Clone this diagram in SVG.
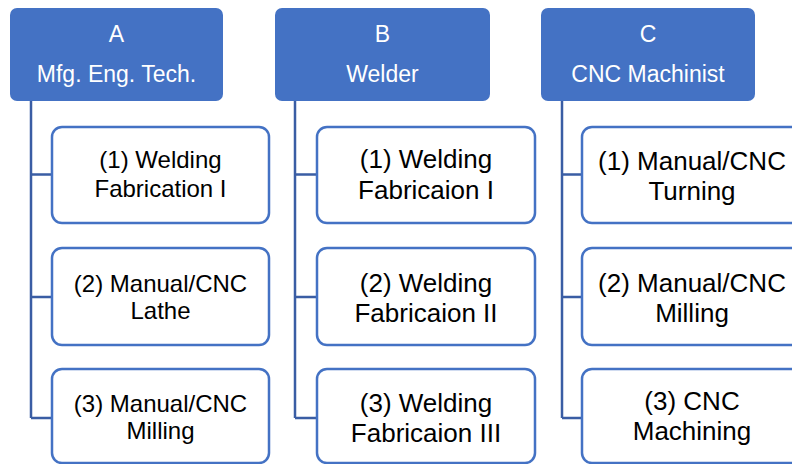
<svg xmlns="http://www.w3.org/2000/svg" width="792" height="464" viewBox="0 0 792 464">
<style>
.hdr{fill:#4472C4;}
.box{fill:#FFFFFF;stroke:#4472C4;stroke-width:2.5;}
.conn{fill:none;stroke:#3A5DA4;stroke-width:2.5;}
.ht{font-family:"Liberation Sans",Arial,sans-serif;font-size:23px;fill:#FFFFFF;text-anchor:middle;}
.ct{font-family:"Liberation Sans",Arial,sans-serif;fill:#000000;text-anchor:middle;}
.sa{font-size:24px;}
.sb{font-size:26px;}
</style>
<rect width="792" height="464" fill="#FFFFFF"/>
<g id="connectors">
<path class="conn" d="M31 101 V418 M31 174.5 H52 M31 297 H52 M31 418 H52"/>
<path class="conn" d="M295 101 V418 M295 174.5 H317 M295 297 H317 M295 418 H317"/>
<path class="conn" d="M562 101 V418 M562 174.5 H582 M562 297 H582 M562 418 H582"/>
</g>
<g id="A">
<rect class="hdr" x="10" y="8" width="213" height="93" rx="7"/>
<text class="ht" x="116.5" y="42">A</text>
<text class="ht" x="116.5" y="82">Mfg. Eng. Tech.</text>
</g>
<g id="B">
<rect class="hdr" x="275" y="8" width="215" height="93" rx="7"/>
<text class="ht" x="382.5" y="42">B</text>
<text class="ht" x="382.5" y="82">Welder</text>
</g>
<g id="C">
<rect class="hdr" x="541" y="8" width="214" height="93" rx="7"/>
<text class="ht" x="648" y="42">C</text>
<text class="ht" x="648" y="82">CNC Machinist</text>
</g>
<g id="A1">
<rect class="box" x="52" y="127" width="217" height="96" rx="10"/>
<text class="ct sa" x="160.5" y="168">(1) Welding</text>
<text class="ct sa" x="160.5" y="197">Fabrication I</text>
</g>
<g id="A2">
<rect class="box" x="52" y="248" width="217" height="97" rx="10"/>
<text class="ct sa" x="160.5" y="292">(2) Manual/CNC</text>
<text class="ct sa" x="160.5" y="319">Lathe</text>
</g>
<g id="A3">
<rect class="box" x="52" y="369" width="217" height="94" rx="10"/>
<text class="ct sa" x="160.5" y="412">(3) Manual/CNC</text>
<text class="ct sa" x="160.5" y="439">Milling</text>
</g>
<g id="B1">
<rect class="box" x="317" y="127" width="218" height="96" rx="10"/>
<text class="ct sb" x="426" y="168">(1) Welding</text>
<text class="ct sb" x="426" y="199">Fabricaion I</text>
</g>
<g id="B2">
<rect class="box" x="317" y="248" width="218" height="97" rx="10"/>
<text class="ct sb" x="426" y="291.5">(2) Welding</text>
<text class="ct sb" x="426" y="321.5">Fabricaion II</text>
</g>
<g id="B3">
<rect class="box" x="317" y="369" width="218" height="94" rx="10"/>
<text class="ct sb" x="426" y="412">(3) Welding</text>
<text class="ct sb" x="426" y="442">Fabricaion III</text>
</g>
<g id="C1">
<rect class="box" x="582" y="127" width="220" height="96" rx="10"/>
<text class="ct sb" x="692" y="170">(1) Manual/CNC</text>
<text class="ct sb" x="692" y="200">Turning</text>
</g>
<g id="C2">
<rect class="box" x="582" y="248" width="220" height="97" rx="10"/>
<text class="ct sb" x="692" y="291.5">(2) Manual/CNC</text>
<text class="ct sb" x="692" y="321.5">Milling</text>
</g>
<g id="C3">
<rect class="box" x="582" y="369" width="220" height="94" rx="10"/>
<text class="ct sb" x="692" y="410">(3) CNC</text>
<text class="ct sb" x="692" y="440">Machining</text>
</g>
</svg>
